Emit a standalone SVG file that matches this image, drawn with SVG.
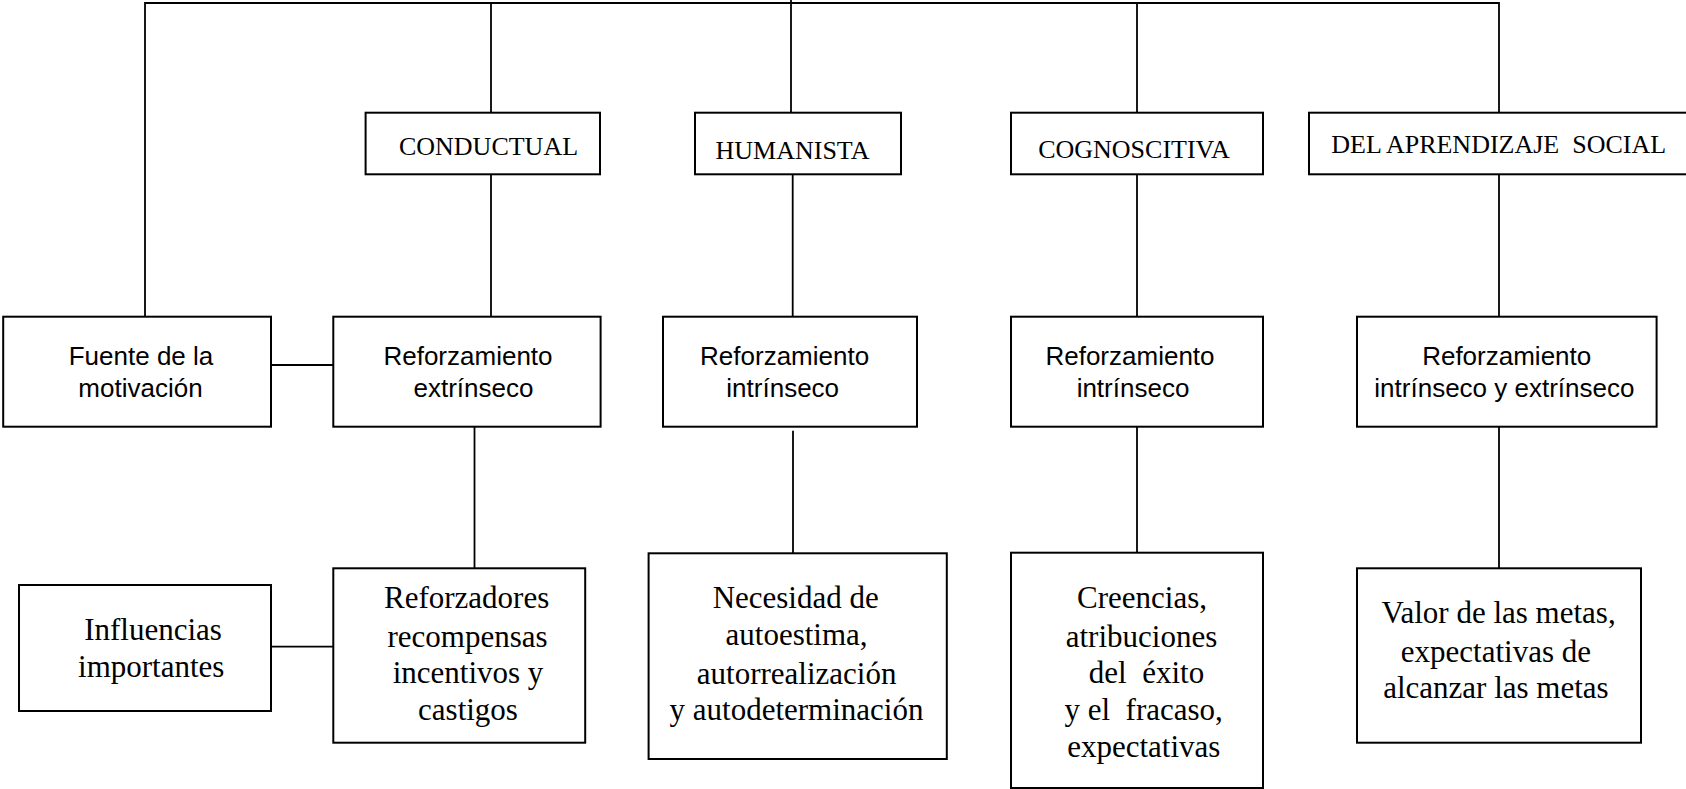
<svg xmlns="http://www.w3.org/2000/svg" width="1686" height="789" viewBox="0 0 1686 789">
<style>
.box{fill:#fff;stroke:#000;stroke-width:2}
.ln{stroke:#000;stroke-width:1.8;fill:none}
.sans{font-family:"Liberation Sans",Arial,sans-serif;font-size:26px;fill:#000;text-anchor:middle}
.serT{font-family:"Liberation Serif","Times New Roman",serif;font-size:26px;fill:#000;text-anchor:middle;white-space:pre}
.serB{font-family:"Liberation Serif","Times New Roman",serif;font-size:31px;fill:#000;text-anchor:middle;white-space:pre}
</style>
<rect width="1686" height="789" fill="#fff"/>
<g id="connectors">
<polyline class="ln" points="145,316.7 145,3 1499,3 1499,112.7"/>
<line class="ln" x1="491" y1="3" x2="491" y2="112.7"/>
<line class="ln" x1="791" y1="0" x2="791" y2="114"/>
<line class="ln" x1="1137" y1="3" x2="1137" y2="112.7"/>
<line class="ln" x1="491" y1="174.3" x2="491" y2="316.7"/>
<line class="ln" x1="792.7" y1="174.3" x2="792.7" y2="316.7"/>
<line class="ln" x1="1137" y1="174.3" x2="1137" y2="316.7"/>
<line class="ln" x1="1499" y1="174.3" x2="1499" y2="316.7"/>
<line class="ln" x1="474.5" y1="426.7" x2="474.5" y2="568.3"/>
<line class="ln" x1="793" y1="430.7" x2="793" y2="556.7"/>
<line class="ln" x1="1137" y1="426.7" x2="1137" y2="552.7"/>
<line class="ln" x1="1499" y1="426.7" x2="1499" y2="568.3"/>
<line class="ln" x1="271" y1="365" x2="333.3" y2="365"/>
<line class="ln" x1="271" y1="646.7" x2="333.3" y2="646.7"/>
</g>
<g id="conductual">
<rect class="box" x="365.6" y="112.7" width="234.4" height="61.6"/>
<text class="serT" x="488.5" y="155.3">CONDUCTUAL</text>
</g>
<g id="humanista">
<rect class="box" x="695" y="112.7" width="206" height="61.6"/>
<text class="serT" x="792.5" y="159.3">HUMANISTA</text>
</g>
<g id="cognoscitiva">
<rect class="box" x="1011" y="112.7" width="252" height="61.6"/>
<text class="serT" x="1134" y="158.3">COGNOSCITIVA</text>
</g>
<g id="social">
<rect class="box" x="1309" y="112.7" width="390" height="61.6"/>
<text class="serT" x="1498.7" y="152.7">DEL APRENDIZAJE  SOCIAL</text>
</g>
<g id="fuente">
<rect class="box" x="3.2" y="316.7" width="267.8" height="110"/>
<text class="sans" x="141" y="365">Fuente de la</text>
<text class="sans" x="140.5" y="396.7">motivación</text>
</g>
<g id="ref-extrinseco">
<rect class="box" x="333.3" y="316.7" width="267.3" height="110"/>
<text class="sans" x="468" y="365">Reforzamiento</text>
<text class="sans" x="473.5" y="396.7">extrínseco</text>
</g>
<g id="ref-intrinseco-h">
<rect class="box" x="663" y="316.7" width="254" height="110"/>
<text class="sans" x="784.6" y="365">Reforzamiento</text>
<text class="sans" x="782.7" y="396.7">intrínseco</text>
</g>
<g id="ref-intrinseco-c">
<rect class="box" x="1011" y="316.7" width="252" height="110"/>
<text class="sans" x="1130" y="365">Reforzamiento</text>
<text class="sans" x="1133" y="396.7">intrínseco</text>
</g>
<g id="ref-ambos">
<rect class="box" x="1357" y="316.7" width="299.6" height="110"/>
<text class="sans" x="1506.7" y="365">Reforzamiento</text>
<text class="sans" x="1504.4" y="396.7">intrínseco y extrínseco</text>
</g>
<g id="influencias">
<rect class="box" x="19" y="585" width="252" height="126"/>
<text class="serB" x="153" y="640">Influencias</text>
<text class="serB" x="151.2" y="676.7">importantes</text>
</g>
<g id="reforzadores">
<rect class="box" x="333.3" y="568.3" width="251.9" height="174.4"/>
<text class="serB" x="466.6" y="608.3">Reforzadores</text>
<text class="serB" x="467.6" y="646.7">recompensas</text>
<text class="serB" x="468" y="683.3">incentivos y</text>
<text class="serB" x="468" y="720">castigos</text>
</g>
<g id="necesidad">
<rect class="box" x="648.6" y="553.3" width="298.2" height="205.7"/>
<text class="serB" x="795.7" y="608.3">Necesidad de</text>
<text class="serB" x="796.6" y="645">autoestima,</text>
<text class="serB" x="796.6" y="684.3">autorrealización</text>
<text class="serB" x="796.5" y="720">y autodeterminación</text>
</g>
<g id="creencias">
<rect class="box" x="1011" y="552.7" width="252" height="235.3"/>
<text class="serB" x="1142" y="608.3">Creencias,</text>
<text class="serB" x="1141.5" y="646.7">atribuciones</text>
<text class="serB" x="1146.5" y="683.3">del  éxito</text>
<text class="serB" x="1143.7" y="720">y el  fracaso,</text>
<text class="serB" x="1143.8" y="756.7">expectativas</text>
</g>
<g id="valor">
<rect class="box" x="1357" y="568.3" width="284" height="174.4"/>
<text class="serB" x="1498.6" y="623.3">Valor de las metas,</text>
<text class="serB" x="1495.9" y="661.7">expectativas de</text>
<text class="serB" x="1495.9" y="698.3">alcanzar las metas</text>
</g>
</svg>
